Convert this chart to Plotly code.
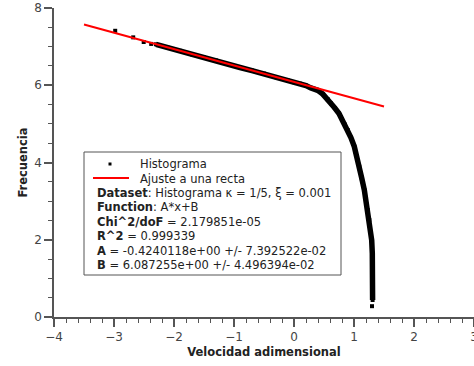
import plotly.graph_objects as go

# ---- data ----
# isolated histogram points (left tail and last point)
tail_x = [-2.98, -2.68, -2.505, -2.38, 1.30]
tail_y = [7.41, 7.24, 7.12, 7.07, 0.28]

# dense histogram points
dense_x = [-2.30, -2.10, -1.90, -1.70, -1.50, -1.30, -1.10, -0.90, -0.70, -0.50,
           -0.30, -0.10, 0.00, 0.10, 0.20, 0.28, 0.395, 0.48, 0.56, 0.617,
           0.68, 0.75, 0.80, 0.85, 0.895, 0.95, 1.005, 1.05, 1.088, 1.13,
           1.172, 1.20, 1.228, 1.255, 1.28, 1.295, 1.305, 1.31, 1.31, 1.31, 1.31]
dense_y = [7.06, 6.97, 6.89, 6.80, 6.72, 6.64, 6.55, 6.46, 6.38, 6.30,
           6.21, 6.12, 6.08, 6.04, 5.99, 5.93, 5.87, 5.77, 5.64, 5.53,
           5.41, 5.27, 5.12, 4.98, 4.84, 4.64, 4.41, 4.15, 3.89, 3.59,
           3.29, 3.03, 2.77, 2.51, 2.20, 1.99, 1.65, 1.30, 0.95, 0.62, 0.44]

# linear fit
fit_A = -0.4240118
fit_B = 6.087255
fit_x = [-3.5, 1.5]
fit_y = [fit_A * v + fit_B for v in fit_x]

x_ticks = [-4, -3, -2, -1, 0, 1, 2, 3]
y_ticks = [0, 2, 4, 6, 8]

legend_lines = [
    "<b>Dataset</b>: Histograma κ = 1/5, ξ = 0.001",
    "<b>Function</b>: A*x+B",
    "<b>Chi^2/doF</b> = 2.179851e-05",
    "<b>R^2</b> = 0.999339",
    "<b>A</b> = -0.4240118e+00 +/- 7.392522e-02",
    "<b>B</b> = 6.087255e+00 +/- 4.496394e-02",
]

FONT = "DejaVu Sans"
W, H = 474, 366
L, R, T, B = 54, 0, 8, 49
PW, PH = W - L - R, H - T - B


def px(xp):
    return (xp - L) / PW


def py(yp):
    return (H - B - yp) / PH


fig = go.Figure()
fig.add_trace(go.Scatter(x=dense_x, y=dense_y, mode="lines+markers",
                         line=dict(color="black", width=5.5),
                         marker=dict(symbol="square", size=4, color="black"),
                         showlegend=False, hoverinfo="skip"))
fig.add_trace(go.Scatter(x=tail_x, y=tail_y, mode="markers",
                         marker=dict(symbol="square", size=4, color="black"),
                         showlegend=False))
fig.add_trace(go.Scatter(x=fit_x, y=fit_y, mode="lines",
                         line=dict(color="red", width=2), showlegend=False))

axis_common = dict(
    showgrid=False, zeroline=False, showline=True, linecolor="#555555", linewidth=1.5,
    ticks="outside", ticklen=8, tickwidth=1.5, tickcolor="#555555",
    tickfont=dict(family=FONT, size=12, color="#444444"), automargin=False,
    ticklabeloverflow="allow",
)

fig.update_xaxes(range=[-4, 3], tickvals=x_ticks, **axis_common,
                 minor=dict(dtick=0.2, tick0=0, ticks="outside", ticklen=4,
                            tickcolor="#555555", tickwidth=1.2),
                 title=dict(text="<b>Velocidad adimensional</b>", standoff=5,
                            font=dict(family=FONT, size=11.5, color="#222222")))
fig.update_yaxes(range=[0, 8], tickvals=y_ticks, **axis_common,
                 minor=dict(dtick=0.5, tick0=0, ticks="outside", ticklen=4,
                            tickcolor="#555555", tickwidth=1.2),
                 title=dict(text="<b>Frecuencia</b>", standoff=4,
                            font=dict(family=FONT, size=11.5, color="#222222")))

shapes = [
    dict(type="rect", xref="paper", yref="paper", x0=px(84), x1=px(341), y0=py(152), y1=py(275),
         line=dict(color="#555555", width=1), fillcolor="white", layer="above"),
    dict(type="rect", xref="paper", yref="paper", x0=px(108.5), x1=px(111.5), y0=py(162.5), y1=py(165.5),
         line=dict(color="black", width=0), fillcolor="black", layer="above"),
    dict(type="line", xref="paper", yref="paper", x0=px(93), x1=px(129), y0=py(178), y1=py(178),
         line=dict(color="red", width=2), layer="above"),
]

annotations = [
    dict(text="Histograma", x=px(138), y=py(164)),
    dict(text="Ajuste a una recta", x=px(138), y=py(178.5)),
]
for i, t in enumerate(legend_lines):
    annotations.append(dict(text=t, x=px(95), y=py(193 + i * 14.4)))
for a in annotations:
    a.update(xref="paper", yref="paper", xanchor="left", yanchor="middle", showarrow=False,
             font=dict(family=FONT, size=11.5, color="#222222"))

fig.update_layout(
    width=W, height=H, margin=dict(l=L, r=R, t=T, b=B),
    paper_bgcolor="white", plot_bgcolor="white",
    shapes=shapes, annotations=annotations,
    font=dict(family=FONT),
)

fig.write_html("out.html")
